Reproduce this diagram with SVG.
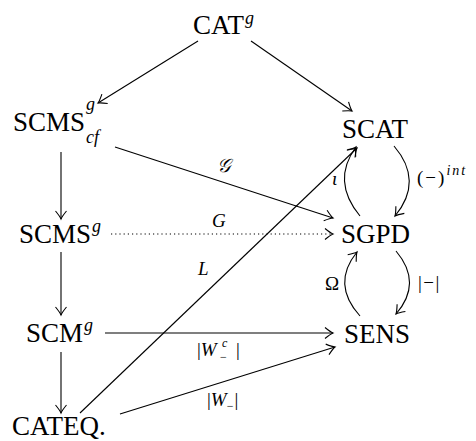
<svg xmlns="http://www.w3.org/2000/svg" width="476" height="441" viewBox="0 0 476 441">
<style>
text{font-family:"Liberation Serif","DejaVu Serif",serif;fill:#000}
.n{font-size:27px}
.s{font-size:18px;font-style:italic}
.l{font-size:19px;font-style:italic}
.u{font-style:normal}
.c{fill:none;stroke:#000;stroke-width:1.1}
.d{stroke-dasharray:1.2 3}
</style>
<defs>
<marker id="ah" markerUnits="userSpaceOnUse" markerWidth="20" markerHeight="20" viewBox="-10 -10 20 20" refX="0" refY="0" orient="auto">
<path d="M-8,-5.5 Q-2.5,-1 0,0 Q-2.5,1 -8,5.5" fill="none" stroke="#000" stroke-width="1.1"/>
</marker>
</defs>
<g id="CATg"><text class="n" x="193" y="34" font-family="Liberation Serif">CAT<tspan class="s" dx="1" dy="-10">g</tspan></text></g>
<g id="SCMScf"><text class="n" x="13" y="131" font-family="Liberation Serif">SCMS<tspan class="s" dx="1" dy="-21">g</tspan><tspan class="s" dx="-9" dy="33">cf</tspan></text></g>
<g id="SCAT"><text class="n" x="342" y="138" font-family="Liberation Serif">SCAT</text></g>
<g id="SCMSg"><text class="n" x="19" y="243" font-family="Liberation Serif">SCMS<tspan class="s" dx="1" dy="-11">g</tspan></text></g>
<g id="SGPD"><text class="n" x="341" y="243" font-family="Liberation Serif">SGPD</text></g>
<g id="SCMg"><text class="n" x="26" y="342" font-family="Liberation Serif">SCM<tspan class="s" dx="1" dy="-11">g</tspan></text></g>
<g id="SENS"><text class="n" x="344" y="343" font-family="Liberation Serif">SENS</text></g>
<g id="CATEQ"><text class="n" x="12" y="435" font-family="Liberation Serif">CATEQ.</text></g>
<g id="connectors">
<path class="c" marker-end="url(#ah)" d="M198,41 L98,103"/>
<path class="c" marker-end="url(#ah)" d="M251,41 L352,111"/>
<path class="c" marker-end="url(#ah)" d="M61,152 L61,219"/>
<path class="c" marker-end="url(#ah)" d="M61,252 L61,315"/>
<path class="c" marker-end="url(#ah)" d="M61,352 L61,413"/>
<path class="c" marker-end="url(#ah)" d="M115,147 L333,218"/>
<path class="c d" marker-end="url(#ah)" d="M111,234 L333,234"/>
<path class="c" marker-end="url(#ah)" d="M80,413 L357,148"/>
<path class="c" marker-end="url(#ah)" d="M105,333 L333,333"/>
<path class="c" marker-end="url(#ah)" d="M120,414 L335,347"/>
<path class="c" marker-end="url(#ah)" d="M394,146 Q424,181 395,216"/>
<path class="c" marker-end="url(#ah)" d="M360,216 Q331,181 356,147"/>
<path class="c" marker-end="url(#ah)" d="M396,251 Q423,283 396,314"/>
<path class="c" marker-end="url(#ah)" d="M360,316 Q331,284 357,252"/>
<text class="l" x="217" y="172">𝒢</text>
<text class="l" x="212" y="227">G</text>
<text class="l" x="198" y="275">L</text>
<text class="l" x="332" y="185">ι</text>
<text class="l" x="417" y="184"><tspan class="u" letter-spacing="2">(−)</tspan><tspan style="font-size:14px" letter-spacing="2" dx="0" dy="-9">int</tspan></text>
<text class="l" x="325" y="290"><tspan class="u">Ω</tspan></text>
<text class="l" x="418" y="289"><tspan class="u" letter-spacing="1.5">|−|</tspan></text>
<text class="l" x="197" y="356"><tspan class="u">|</tspan>W</text>
<text class="s" x="222" y="347" style="font-size:12px">c</text>
<text class="s" x="220" y="361" style="font-size:12px"><tspan class="u">−</tspan></text>
<text class="l" x="236" y="356"><tspan class="u">|</tspan></text>
<text class="l" x="207" y="406"><tspan class="u">|</tspan>W<tspan class="u" style="font-size:12px" dy="4">−</tspan><tspan class="u" dy="-4" dx="1">|</tspan></text>
</g>
</svg>
